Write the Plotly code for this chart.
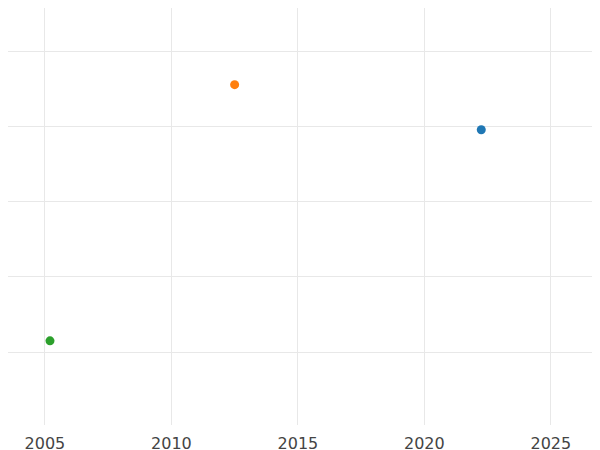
import plotly.graph_objects as go

names = ["A", "B", "C"]
years = [2022.25, 2012.5, 2005.2]
values = [3.96, 4.56, 1.15]
colors = ["#1f77b4", "#ff7f0e", "#2ca02c"]

fig = go.Figure()
for n, x, y, c in zip(names, years, values, colors):
    fig.add_trace(go.Scatter(x=[x], y=[y], mode="markers", name=n,
                             marker=dict(color=c, size=9)))
fig.update_layout(
    width=600, height=450, showlegend=False,
    plot_bgcolor="white", paper_bgcolor="white",
    margin=dict(l=0, r=0, t=0, b=33),
    font=dict(family="DejaVu Sans", size=16, color="#444"),
)
fig.update_xaxes(range=[2003.54, 2027.26], tickvals=[2005, 2010, 2015, 2020, 2025],
                 showgrid=True, gridcolor="#e8e8e8", zeroline=False,
                 ticks="outside", ticklen=4, tickcolor="white")
fig.update_yaxes(range=[0.03, 5.58], tickvals=[1, 2, 3, 4, 5], showticklabels=False,
                 showgrid=True, gridcolor="#e8e8e8", zeroline=False)
fig.write_html("out.html")
